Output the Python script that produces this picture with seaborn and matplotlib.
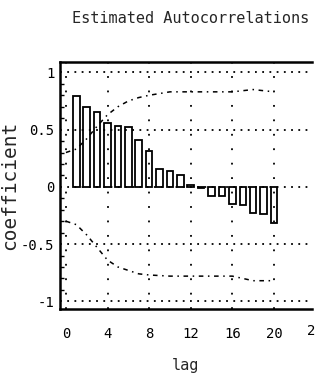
import matplotlib.pyplot as plt
import seaborn as sns
from matplotlib.ticker import MultipleLocator
from matplotlib.transforms import Bbox, TransformedBbox

# estimated autocorrelations, lags 1..20
lags = list(range(1, 21))
acf = [0.79, 0.70, 0.65, 0.56, 0.53, 0.52, 0.41, 0.31, 0.16, 0.14,
       0.10, 0.02, -0.01, -0.08, -0.08, -0.15, -0.16, -0.23, -0.24, -0.32]

# confidence band (dash-dot curves)
band_lags = [0, 1, 2, 3, 4, 5, 6, 7, 8, 10, 12, 14, 16, 18, 20]
upper = [0.30, 0.33, 0.42, 0.53, 0.63, 0.70, 0.75, 0.78, 0.80, 0.83,
         0.83, 0.83, 0.83, 0.85, 0.83]
lower = [-0.30, -0.33, -0.42, -0.53, -0.64, -0.70, -0.73, -0.76, -0.77, -0.78,
         -0.78, -0.78, -0.78, -0.82, -0.82]

xticks = [0, 4, 8, 12, 16, 20]
yticks = [-1, -0.5, 0, 0.5, 1]
ytick_labels = ['-1', '-0.5', '0', '0.5', '1']

sns.set_theme(style='white')
plt.rcParams['font.family'] = ['DejaVu Sans Mono']

fig, ax = plt.subplots(figsize=(3.29, 3.89), dpi=100)
fig.subplots_adjust(left=0.182, right=0.948, bottom=0.206, top=0.841)

sns.barplot(x=lags, y=acf, native_scale=True, width=0.62, fill=False,
            color='black', linewidth=1.3, ax=ax)
sns.lineplot(x=band_lags, y=upper, color='black', linewidth=1.1,
             linestyle=(0, (3, 3, 1, 3)), ax=ax)
sns.lineplot(x=band_lags, y=lower, color='black', linewidth=1.1,
             linestyle=(0, (3, 3, 1, 3)), ax=ax)

ax.set_xlim(-0.58, 23.65)
ax.set_ylim(-1.066, 1.092)
ax.set_xticks(xticks)
ax.set_xticklabels([str(t) for t in xticks])
ax.set_yticks(yticks)
ax.set_yticklabels(ytick_labels)
ax.yaxis.set_minor_locator(MultipleLocator(0.1))

# dotted grid
ax.xaxis.grid(True, color='black', linewidth=1.3, linestyle=(0, (1, 7)))
ax.yaxis.grid(True, color='black', linewidth=1.3, linestyle=(0, (1, 3)))

ax.tick_params(axis='both', which='major', direction='in', length=4,
               width=1.2, color='black', labelcolor='black', labelsize=10)
ax.tick_params(axis='x', pad=13)
ax.tick_params(axis='y', pad=4)
ax.tick_params(axis='y', which='minor', direction='in', length=3,
               width=1.0, color='black', left=True)

for side in ['left', 'top', 'bottom']:
    ax.spines[side].set_color('black')
    ax.spines[side].set_linewidth(1.8)
ax.spines['right'].set_visible(False)

# the last tick label is cut off by the page edge
lbl = ax.text(24, -0.061, '24', transform=ax.get_xaxis_transform(),
              ha='center', va='top', fontsize=10, color='black')
lbl.set_clip_on(True)
lbl.set_clip_box(TransformedBbox(Bbox([[0, 0], [316 / 329, 1]]), fig.transFigure))

ax.set_title('Estimated Autocorrelations', fontsize=11, pad=28, x=0.52)
ax.set_xlabel('lag', fontsize=11, labelpad=12)
ax.set_ylabel('coefficient', fontsize=14, labelpad=1)

fig.savefig('out.png', dpi=100, facecolor='white')
